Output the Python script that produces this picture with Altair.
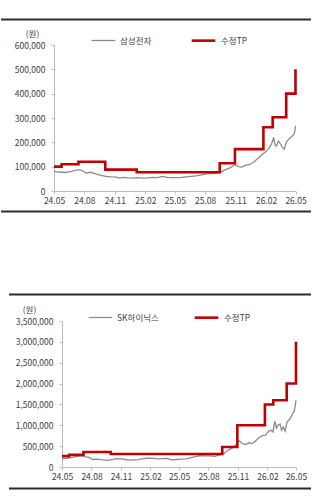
import altair as alt
import pandas as pd

# ---------------- data ----------------
XTICKS = ["2024-05-01", "2024-08-01", "2024-11-01", "2025-02-01", "2025-05-01",
          "2025-08-01", "2025-11-01", "2026-02-01", "2026-05-01"]

SAMSUNG_NAME = "삼성전자"
SAMSUNG_DATES = [
    "2024-05-01", "2024-05-16", "2024-06-03", "2024-06-20", "2024-07-05", "2024-07-15",
    "2024-07-25", "2024-08-05", "2024-08-20", "2024-09-05", "2024-09-20", "2024-10-05",
    "2024-10-20", "2024-11-05", "2024-11-15", "2024-11-28", "2024-12-10", "2024-12-25",
    "2025-01-10", "2025-01-24", "2025-02-10", "2025-02-24", "2025-03-10", "2025-03-25",
    "2025-04-08", "2025-04-22", "2025-05-08", "2025-05-22", "2025-06-05", "2025-06-20",
    "2025-07-05", "2025-07-20", "2025-08-05", "2025-08-20", "2025-09-05", "2025-09-20",
    "2025-10-01", "2025-10-15", "2025-10-30", "2025-11-10", "2025-11-20", "2025-12-01",
    "2025-12-12", "2025-12-25", "2026-01-08", "2026-01-20", "2026-02-01", "2026-02-10",
    "2026-02-18", "2026-02-24", "2026-02-28", "2026-03-05", "2026-03-10", "2026-03-16",
    "2026-03-22", "2026-03-28", "2026-04-03", "2026-04-10", "2026-04-16", "2026-04-23",
    "2026-04-28", "2026-05-01"]
SAMSUNG_PRICE = [
    81000, 78000, 76000, 80000, 85000, 88000,
    84000, 74000, 77000, 70000, 64000, 60000,
    58000, 57000, 53000, 56000, 54000, 53000,
    55000, 53000, 54000, 56000, 55000, 60000,
    56000, 55000, 55000, 56000, 58000, 60000,
    62000, 66000, 70000, 71000, 74000, 80000,
    88000, 95000, 108000, 100000, 98000, 106000,
    108000, 118000, 135000, 150000, 162000, 175000,
    195000, 220000, 190000, 185000, 205000, 195000,
    180000, 172000, 200000, 212000, 220000, 228000,
    238000, 268000]
SAMSUNG_TP_DATES = ["2024-05-01", "2024-05-24", "2024-07-14", "2024-10-03", "2025-01-06",
                    "2025-09-14", "2025-10-30", "2026-01-24", "2026-02-21", "2026-04-03",
                    "2026-05-01"]
SAMSUNG_TP = [100000, 110000, 120000, 88000, 77000, 114000, 172000, 262000, 303000,
              400000, 500000]

HYNIX_NAME = "SK하이닉스"
HYNIX_DATES = [
    "2024-05-01", "2024-05-16", "2024-06-03", "2024-06-20", "2024-07-05", "2024-07-15",
    "2024-07-25", "2024-08-05", "2024-08-20", "2024-09-05", "2024-09-20", "2024-10-05",
    "2024-10-20", "2024-11-05", "2024-11-15", "2024-11-28", "2024-12-10", "2024-12-25",
    "2025-01-10", "2025-01-24", "2025-02-10", "2025-02-24", "2025-03-10", "2025-03-25",
    "2025-04-08", "2025-04-22", "2025-05-08", "2025-05-22", "2025-06-05", "2025-06-20",
    "2025-07-05", "2025-07-20", "2025-08-05", "2025-08-20", "2025-09-05", "2025-09-20",
    "2025-10-01", "2025-10-15", "2025-10-30", "2025-11-05", "2025-11-15", "2025-11-25",
    "2025-12-05", "2025-12-15", "2025-12-25", "2026-01-05", "2026-01-15", "2026-01-25",
    "2026-02-05", "2026-02-12", "2026-02-18", "2026-02-24", "2026-03-01", "2026-03-06",
    "2026-03-12", "2026-03-17", "2026-03-22", "2026-03-28", "2026-04-03", "2026-04-12",
    "2026-04-20", "2026-04-26", "2026-05-01"]
HYNIX_PRICE = [
    200000, 210000, 230000, 260000, 270000, 240000,
    230000, 180000, 190000, 170000, 160000, 185000,
    200000, 195000, 180000, 165000, 170000, 175000,
    200000, 210000, 205000, 195000, 200000, 205000,
    170000, 180000, 190000, 195000, 220000, 250000,
    270000, 265000, 265000, 255000, 290000, 330000,
    400000, 460000, 560000, 630000, 560000, 540000,
    580000, 560000, 620000, 700000, 750000, 760000,
    860000, 880000, 840000, 1100000, 930000, 1000000,
    1030000, 880000, 960000, 860000, 1080000, 1150000,
    1270000, 1350000, 1600000]
HYNIX_TP_DATES = ["2024-05-01", "2024-05-23", "2024-07-07", "2024-09-30", "2025-09-13",
                  "2025-10-30", "2026-01-24", "2026-02-19", "2026-04-02", "2026-05-01"]
HYNIX_TP = [260000, 290000, 360000, 310000, 480000, 1000000, 1500000, 1600000,
            2000000, 3000000]

TP_NAME = "수정TP"
UNIT = "(원)"

# ---------------- style ----------------
FONT = "Noto Sans CJK KR"
GRAY = "#8c8c8c"
RED = "#c00000"
TEXT = "#404040"
AXIS = "#bfbfbf"
ORIGIN = 61  # shared left edge of the panels' group origin (page px)


def dt(d):
    y, m, dd = (int(p) for p in d.split("-"))
    return alt.DateTime(year=y, month=m, date=dd, utc=True)


def panel(name, dates, prices, tp_dates, tps, ymax, ystep, x0, x1, height,
          unit_x, legend_x, legend_y, col_pad, rule_x0, top_y, bot_y):
    # x0/x1: plot left/right edges relative to the shared origin
    price_df = pd.DataFrame({"date": dates, "value": prices, "series": name})
    tp_df = pd.DataFrame({"date": tp_dates, "value": tps, "series": TP_NAME})
    dom = [name, TP_NAME]
    leg = alt.Legend(orient="none", legendX=legend_x, legendY=legend_y,
                     direction="horizontal", title=None, symbolType="stroke",
                     symbolSize=560, labelFont=FONT, labelFontSize=8.5,
                     labelColor=TEXT, labelOffset=4, columnPadding=col_pad,
                     padding=0)
    color = alt.Color("series:N", scale=alt.Scale(domain=dom, range=[GRAY, RED]),
                      legend=leg)
    sw = alt.StrokeWidth("series:N", scale=alt.Scale(domain=dom, range=[1.3, 2.6]),
                         legend=leg)
    x = alt.X("date:T",
              scale=alt.Scale(type="utc", domain=[dt(XTICKS[0]), dt(XTICKS[-1])],
                              range=[x0, x1]),
              axis=alt.Axis(values=[dt(t) for t in XTICKS],
                            labelExpr="utcFormat(datum.value, '%y.%m')",
                            title=None, labelPadding=2, grid=False,
                            labelOverlap=False, labelFlush=False))
    y = alt.Y("value:Q", scale=alt.Scale(domain=[0, ymax], nice=False),
              axis=alt.Axis(values=list(range(0, ymax + 1, ystep)), format=",d",
                            title=UNIT, titleAngle=0, titleAlign="center",
                            titleBaseline="middle", titleX=unit_x, titleY=-12,
                            titleFont=FONT, titleFontSize=8.5,
                            titleFontWeight="normal", titleColor=TEXT,
                            labelPadding=6, grid=False, offset=-x0))
    price = alt.Chart(price_df).mark_line().encode(x=x, y=y, color=color,
                                                  strokeWidth=sw)
    tp = alt.Chart(tp_df).mark_line(interpolate="step-after",
                                    strokeJoin="miter").encode(
        x=x, y=y, color=color, strokeWidth=sw)
    one = pd.DataFrame({"k": [0]})
    rule_kw = dict(color="#2b2b2b", strokeWidth=2)
    top = alt.Chart(one).mark_rule(**rule_kw).encode(
        x=alt.value(rule_x0), x2=alt.value(310 - ORIGIN), y=alt.value(top_y))
    bot = alt.Chart(one).mark_rule(**rule_kw).encode(
        x=alt.value(rule_x0), x2=alt.value(310 - ORIGIN), y=alt.value(bot_y))
    return alt.layer(price, tp, top, bot).properties(width=x1, height=height)


c1 = panel(SAMSUNG_NAME, SAMSUNG_DATES, SAMSUNG_PRICE, SAMSUNG_TP_DATES, SAMSUNG_TP,
           600000, 100000, x0=53 - ORIGIN, x1=294.5 - ORIGIN, height=146,
           unit_x=-22, legend_x=29, legend_y=-18, col_pad=34,
           rule_x0=0 - ORIGIN, top_y=-25.5, bot_y=166.5)
c2 = panel(HYNIX_NAME, HYNIX_DATES, HYNIX_PRICE, HYNIX_TP_DATES, HYNIX_TP,
           3500000, 500000, x0=0, x1=295 - ORIGIN, height=146,
           unit_x=-33, legend_x=26, legend_y=-17, col_pad=30,
           rule_x0=8 - ORIGIN, top_y=-26.5, bot_y=167.5)

chart = alt.concat(c1, c2, columns=1, spacing=80).resolve_scale(
    color="independent", strokeWidth="independent", x="independent", y="independent"
).resolve_legend(
    color="independent", strokeWidth="independent"
).properties(
    padding={"left": 0, "top": 18, "right": 0, "bottom": 0}
).configure_view(stroke=None).configure_axis(
    domainColor=AXIS, tickColor=AXIS, tickSize=3, grid=False,
    labelFont=FONT, labelFontSize=8.5, labelColor=TEXT
)

chart.save("out.html", embed_options={"renderer": "svg", "actions": False})
